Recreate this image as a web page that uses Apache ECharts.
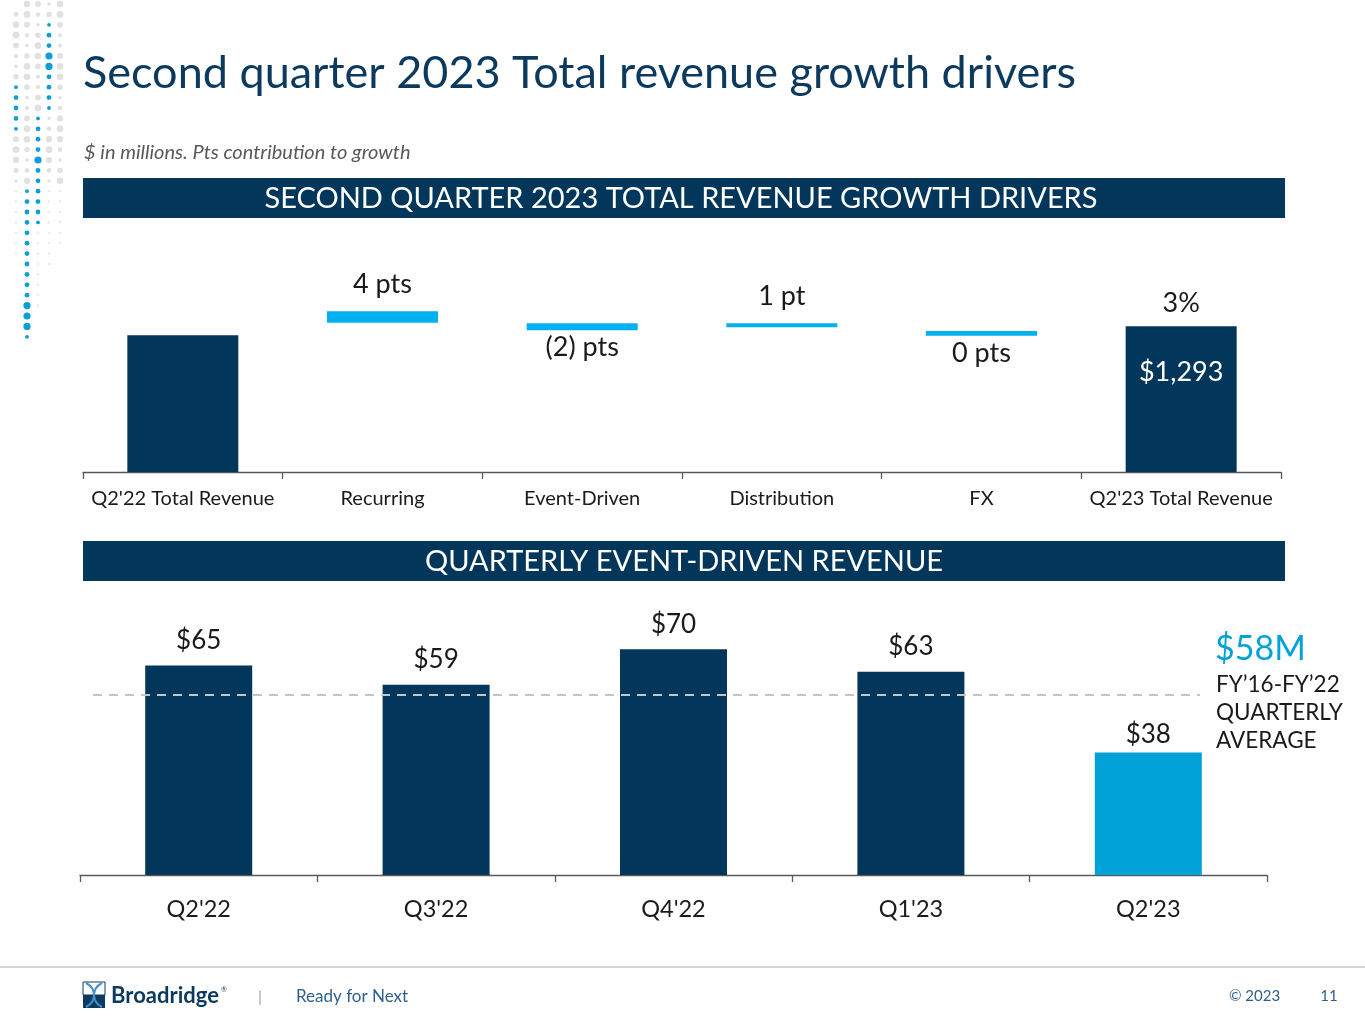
<!DOCTYPE html>
<html><head><meta charset="utf-8">
<script src="https://cdn.jsdelivr.net/npm/echarts@6/dist/echarts.min.js"></script>
<style>html,body{margin:0;padding:0;background:#fff}#c{width:1365px;height:1024px}</style>
</head><body><div id="c"></div>
<script>
const FONT = 'Lato, "Open Sans", sans-serif';
const NAVY = '#02375B';
const LIGHT = '#00B0F0';
const CYAN = '#00A2D8';
const TXT = '#1a1a1a';

// ---- top chart: growth drivers (floating markers) ----
const driverCategories = ["Q2'22 Total Revenue", "Recurring", "Event-Driven", "Distribution", "FX", "Q2'23 Total Revenue"];
const driverLow  = [0, 1324, 1258, 1284, 1210, 0];
const driverHigh = [1213, 1426, 1320, 1320, 1251, 1293];
const driverLabels = ['', '4 pts', '(2) pts', '1 pt', '0 pts', '3%'];
const driverLabelSide = ['top', 'top', 'bottom', 'top', 'bottom', 'top'];
const driverIsTotal = [true, false, false, false, false, true];
const totalValueLabel = '$1,293';

// ---- bottom chart: quarterly event-driven revenue ----
const quarterCategories = ["Q2'22", "Q3'22", "Q4'22", "Q1'23", "Q2'23"];
const eventDrivenRevenue = [65, 59, 70, 63, 38];
const avgLineLevel = 56;
const avgLabel = '$58M';
const avgNote = ['FY’16-FY’22', 'QUARTERLY', 'AVERAGE'];

// ---- decorative dot pattern (columns of dots) ----
const dotColX = [16, 27, 38, 49, 60];
const dotBlueRows = [[8, 12], [18, 32], [11, 21], [2, 10], null];
const dotGreyRows = [[1, 17], [0, 17], [0, 10], [0, 17], [0, 17]];
const dotFaintRows = [[18, 24], null, [22, 29], [18, 25], [18, 23]];
const dotBigBlue = [[], [29, 30, 31], [15], [5, 6], []];

const chart = echarts.init(document.getElementById('c'), null, {renderer: 'canvas'});

const graphics = [];
// dots
for (let c = 0; c < dotColX.length; c++) {
  for (let r = 0; r <= 32; r++) {
    const y = 4 + r * 10.4;
    let fill = null, rad = 1.6;
    const b = dotBlueRows[c], g = dotGreyRows[c], f = dotFaintRows[c];
    if (b && r >= b[0] && r <= b[1]) {
      fill = '#0A9FD8';
      rad = dotBigBlue[c].indexOf(r) >= 0 ? 3.6 : (r === b[0] || r === b[1] ? 1.9 : 2.4);
    } else if (g && r >= g[0] && r <= g[1]) {
      fill = '#e1e1e1';
      rad = 1.5 + 1.9 * Math.abs(Math.sin((r + c * 2) * 0.55));
    } else if (f && r >= f[0] && r <= f[1]) {
      fill = '#ececec';
      rad = 1.3;
    }
    if (fill) graphics.push({type: 'circle', shape: {cx: dotColX[c], cy: y, r: rad}, style: {fill: fill}, silent: true});
  }
}

graphics.push(
  {type: 'text', style: {text: 'Second quarter 2023 Total revenue growth drivers', x: 83, y: 73, font: 'normal 45px ' + FONT, fill: '#0B3A5E', textVerticalAlign: 'middle'}},
  {type: 'text', style: {text: '$ in millions. Pts contribution to growth', x: 84, y: 153, font: 'italic 20px ' + FONT, fill: '#595959', textVerticalAlign: 'middle'}},
  {type: 'rect', shape: {x: 83, y: 178, width: 1202, height: 40}, style: {fill: NAVY}},
  {type: 'text', style: {text: 'SECOND QUARTER 2023 TOTAL REVENUE GROWTH DRIVERS', x: 681, y: 199, font: 'normal 29px ' + FONT, fill: '#fff', textAlign: 'center', textVerticalAlign: 'middle'}},
  {type: 'rect', shape: {x: 83, y: 541, width: 1202, height: 40}, style: {fill: NAVY}},
  {type: 'text', style: {text: 'QUARTERLY EVENT-DRIVEN REVENUE', x: 684, y: 562, font: 'normal 29px ' + FONT, fill: '#fff', textAlign: 'center', textVerticalAlign: 'middle'}},
  {type: 'text', style: {text: avgLabel, x: 1215, y: 649, font: 'normal 34px ' + FONT, fill: CYAN, textVerticalAlign: 'middle'}},
  {type: 'text', style: {text: avgNote.join('\n'), x: 1216, y: 671, font: 'normal 22.5px ' + FONT, fill: TXT, lineHeight: 28}},
  // footer
  {type: 'line', shape: {x1: 0, y1: 967, x2: 1365, y2: 967}, style: {stroke: '#d6d6d6', lineWidth: 2}},
  {type: 'rect', shape: {x: 83, y: 982, width: 22, height: 13}, style: {fill: '#ffffff', stroke: '#0B3A5E', lineWidth: 1}},
  {type: 'rect', shape: {x: 83, y: 995, width: 22, height: 13}, style: {fill: '#0B3A5E'}},
  {type: 'bezierCurve', shape: {x1: 86, y1: 983, x2: 102, y2: 1007, cpx1: 100, cpy1: 990, cpx2: 88, cpy2: 1000}, style: {stroke: '#4a90c8', lineWidth: 2, fill: null}},
  {type: 'bezierCurve', shape: {x1: 102, y1: 983, x2: 86, y2: 1007, cpx1: 88, cpy1: 990, cpx2: 100, cpy2: 1000}, style: {stroke: '#4a90c8', lineWidth: 2, fill: null}},
  {type: 'text', style: {text: 'Broadridge', x: 111, y: 996, font: 'bold 22px ' + FONT, fill: '#0B3A5E', textVerticalAlign: 'middle'}},
  {type: 'text', style: {text: '®', x: 221, y: 990, font: 'normal 7px ' + FONT, fill: '#0B3A5E', textVerticalAlign: 'middle'}},
  {type: 'text', style: {text: '|', x: 258, y: 997, font: 'normal 16px ' + FONT, fill: '#9aa7b4', textVerticalAlign: 'middle'}},
  {type: 'text', style: {text: 'Ready for Next', x: 296, y: 997, font: 'normal 17px ' + FONT, fill: '#2F5F8F', textVerticalAlign: 'middle'}},
  {type: 'text', style: {text: '© 2023', x: 1229, y: 996, font: 'normal 15px ' + FONT, fill: '#2F5F8F', textVerticalAlign: 'middle'}},
  {type: 'text', style: {text: '11', x: 1329, y: 996, font: 'normal 15px ' + FONT, fill: '#2F5F8F', textAlign: 'center', textVerticalAlign: 'middle'}}
);

const driverLabelDistance = [8, 14, 4, 13, 4, 10];
const driverVisible = driverHigh.map((h, i) => ({
  value: h - driverLow[i],
  itemStyle: {color: driverIsTotal[i] ? NAVY : LIGHT},
  label: {
    show: driverLabels[i] !== '',
    position: driverLabelSide[i],
    distance: driverLabelDistance[i],
    formatter: driverLabels[i]
  }
}));
const totalOverlay = driverHigh.map((h, i) => (i === driverHigh.length - 1 ? h : null));

const eventData = eventDrivenRevenue.map((v, i) => ({
  value: v,
  itemStyle: {color: i === eventDrivenRevenue.length - 1 ? CYAN : NAVY},
  label: {distance: i === eventDrivenRevenue.length - 1 ? 5 : 12}
}));

const axisCommon = {
  axisLine: {lineStyle: {color: '#595959', width: 1.3}},
  axisTick: {show: true, length: 7, lineStyle: {color: '#595959', width: 1.3}},
  splitLine: {show: false}
};

chart.setOption({
  animation: false,
  textStyle: {fontFamily: FONT},
  graphic: graphics,
  grid: [
    {left: 83, right: 84, top: 303, bottom: 552},
    {left: 80, right: 98, top: 617, bottom: 149}
  ],
  xAxis: [
    Object.assign({type: 'category', gridIndex: 0, data: driverCategories,
      axisLabel: {fontSize: 20, color: TXT, margin: 17, interval: 0, fontFamily: FONT}}, axisCommon),
    Object.assign({type: 'category', gridIndex: 1, data: quarterCategories,
      axisLabel: {fontSize: 23.5, color: TXT, margin: 22, interval: 0, fontFamily: FONT}}, axisCommon)
  ],
  yAxis: [
    {type: 'value', gridIndex: 0, min: 0, max: 1500, show: false, splitLine: {show: false}},
    {type: 'value', gridIndex: 1, min: 0, max: 80, show: false, splitLine: {show: false}}
  ],
  series: [
    {type: 'bar', xAxisIndex: 0, yAxisIndex: 0, stack: 'wf', barWidth: 111, silent: true,
      itemStyle: {color: 'transparent'}, data: driverLow},
    {type: 'bar', xAxisIndex: 0, yAxisIndex: 0, stack: 'wf', barWidth: 111,
      label: {fontSize: 27, color: TXT, fontFamily: FONT},
      data: driverVisible},
    {type: 'bar', xAxisIndex: 0, yAxisIndex: 0, barWidth: 111, barGap: '-100%', silent: true,
      itemStyle: {color: 'transparent'},
      label: {show: true, position: 'insideTop', distance: 32, formatter: totalValueLabel, fontSize: 27, color: '#fff', fontFamily: FONT},
      data: totalOverlay},
    {type: 'bar', xAxisIndex: 1, yAxisIndex: 1, barWidth: 107,
      label: {show: true, position: 'top', formatter: '${c}', fontSize: 26, color: TXT, fontFamily: FONT},
      data: eventData,
      markLine: {silent: true, symbol: 'none', label: {show: false},
        lineStyle: {color: '#c4c4c4', type: [9, 7], width: 2},
        data: [[{coord: [0, avgLineLevel], x: 93}, {coord: [quarterCategories.length - 1, avgLineLevel], x: 1200}]]}
    }
  ]
});
</script>
</body></html>
